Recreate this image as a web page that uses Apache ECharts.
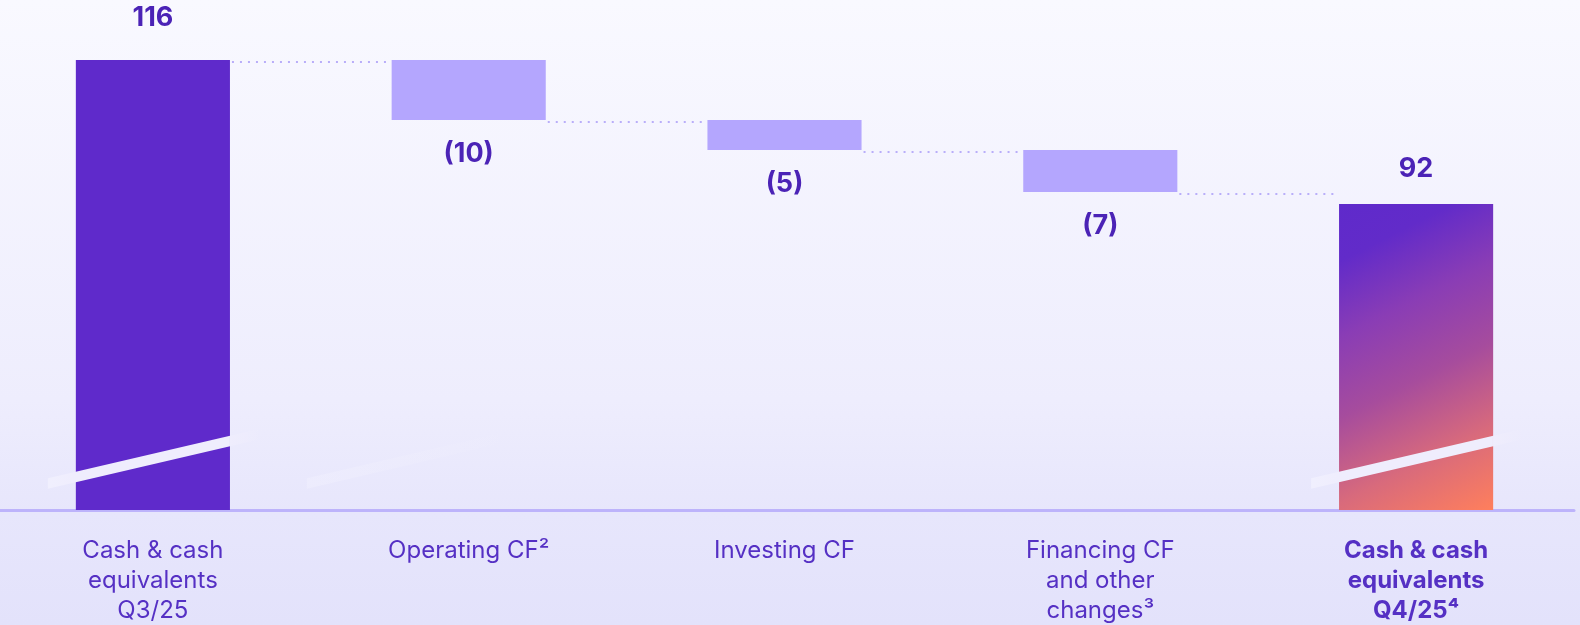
<!DOCTYPE html>
<html>
<head>
<meta charset="utf-8">
<script src="https://cdn.jsdelivr.net/npm/echarts@6/dist/echarts.min.js"></script>
<style>
  html, body { margin: 0; padding: 0; }
  #chart { width: 1580px; height: 625px; }
</style>
</head>
<body>
<div id="chart"></div>
<script>
// Cash bridge Q3/25 -> Q4/25
const categories = [
  'Cash & cash\nequivalents\nQ3/25',
  'Operating CF²',
  'Investing CF',
  'Financing CF\nand other\nchanges³',
  'Cash & cash\nequivalents\nQ4/25⁴'
];
const openingBalance = 116;
const cashFlows = [-10, -5, -7];
const closingBalance = 92;
const valueLabels = ['116', '(10)', '(5)', '(7)', '92'];

// Layout / style constants
const BAR_RATIO = 0.488;          // bar width as share of a category band
const BREAK_AT = 49.5;            // value where the axis-break slash sits
const AXIS_MIN = 41, AXIS_MAX = 121;

// Running balance after each step
const levels = [openingBalance];
cashFlows.forEach(cf => levels.push(levels[levels.length - 1] + cf));

// Invisible stack base + visible segment for each column
const baseData = [0];
const segData = [openingBalance];
cashFlows.forEach((cf, k) => {
  baseData.push(levels[k + 1]);
  segData.push(-cf);
});
baseData.push(0);
segData.push(closingBalance);

const connectorData = levels.map((lvl, i) => [i, lvl]);

const DARK = '#5F2ACB';
const LIGHT = '#B4A6FE';
const finalGradient = new echarts.graphic.LinearGradient(0, 0, 1, 1, [
  { offset: 0, color: '#5F2ACB' },
  { offset: 0.15, color: '#622BC9' },
  { offset: 0.35, color: '#8A3DB5' },
  { offset: 0.56, color: '#A64C9D' },
  { offset: 0.78, color: '#D86A7C' },
  { offset: 1, color: '#FF7F5C' }
]);

const segItems = segData.map((v, i) => {
  const isTotal = (i === 0 || i === segData.length - 1);
  return {
    value: v,
    itemStyle: { color: i === segData.length - 1 ? finalGradient : (isTotal ? DARK : LIGHT) },
    label: {
      position: isTotal ? 'top' : 'bottom',
      distance: i === 0 ? 29 : (isTotal ? 22 : 20)
    }
  };
});

// [category index, x offset as share of band, opacity]
const breakMarks = [[0, 0, 1], [1, -0.18, 0.3], [4, 0, 1]];

const chart = echarts.init(document.getElementById('chart'));
chart.setOption({
  backgroundColor: {
    type: 'linear', x: 0, y: 0, x2: 0, y2: 1,
    colorStops: [
      { offset: 0, color: '#F9F9FF' },
      { offset: 0.64, color: '#EEEDFD' },
      { offset: 0.82, color: '#E7E6FC' },
      { offset: 1, color: '#E3E2FB' }
    ]
  },
  animation: false,
  grid: { left: -5, right: 6, top: 30, bottom: 115, outerBoundsMode: 'none', containLabel: false },
  xAxis: {
    type: 'category',
    data: categories.map((c, i) => i === categories.length - 1
      ? { value: c, textStyle: { fontWeight: 700 } }
      : c),
    axisLine: { show: true, lineStyle: { color: '#BDB3FB', width: 3 } },
    axisTick: { show: false },
    axisLabel: {
      interval: 0,
      margin: 26,
      fontFamily: 'Inter',
      fontSize: 24,
      lineHeight: 30,
      color: '#5530C4',
      align: 'center'
    }
  },
  yAxis: {
    type: 'value',
    min: AXIS_MIN,
    max: AXIS_MAX,
    show: false,
    splitLine: { show: false }
  },
  series: [
    {
      type: 'bar',
      stack: 'bridge',
      barWidth: (BAR_RATIO * 100) + '%',
      data: baseData,
      itemStyle: { color: 'transparent' },
      silent: true,
      clip: true
    },
    {
      type: 'bar',
      stack: 'bridge',
      barWidth: (BAR_RATIO * 100) + '%',
      data: segItems,
      clip: true,
      label: {
        show: true,
        formatter: p => valueLabels[p.dataIndex],
        fontFamily: 'Inter',
        fontWeight: 700,
        fontSize: 27,
        color: '#4B23B6'
      }
    },
    {
      // dotted connectors between consecutive columns
      type: 'custom',
      data: connectorData,
      silent: true,
      z: 3,
      renderItem(params, api) {
        const i = api.value(0), lvl = api.value(1);
        const a = api.coord([i, lvl]);
        const b = api.coord([i + 1, lvl]);
        const half = api.size([1, 0])[0] * BAR_RATIO / 2;
        return {
          type: 'line',
          shape: { x1: a[0] + half + 2, y1: a[1] + 2, x2: b[0] - half - 2, y2: b[1] + 2 },
          style: { stroke: '#B9AEF9', lineWidth: 2.2, lineDash: [2, 6] }
        };
      }
    },
    {
      // slanted axis-break slashes
      type: 'custom',
      data: breakMarks,
      silent: true,
      z: 5,
      renderItem(params, api) {
        const i = api.value(0), off = api.value(1), op = api.value(2);
        const band = api.size([1, 0])[0];
        const c = api.coord([i, BREAK_AT]);
        const cx = c[0] + off * band;
        const cy = c[1];
        const hw = 105, s = 0.234, t = 10.5;
        const fill = op < 1
          ? new echarts.graphic.LinearGradient(0, 0, 1, 0, [
              { offset: 0, color: 'rgba(246,245,255,' + op + ')' },
              { offset: 1, color: 'rgba(246,245,255,0)' }
            ])
          : new echarts.graphic.LinearGradient(0, 0, 1, 0, [
              { offset: 0, color: 'rgba(241,240,254,0.9)' },
              { offset: 0.12, color: 'rgba(239,237,253,1)' },
              { offset: 0.86, color: 'rgba(239,237,253,1)' },
              { offset: 1, color: 'rgba(239,237,253,0.15)' }
            ]);
        return {
          type: 'polygon',
          shape: {
            points: [
              [cx - hw, cy + hw * s - t / 2],
              [cx + hw, cy - hw * s - t / 2],
              [cx + hw, cy - hw * s + t / 2],
              [cx - hw, cy + hw * s + t / 2]
            ]
          },
          style: { fill: fill }
        };
      }
    }
  ]
});
</script>
</body>
</html>
